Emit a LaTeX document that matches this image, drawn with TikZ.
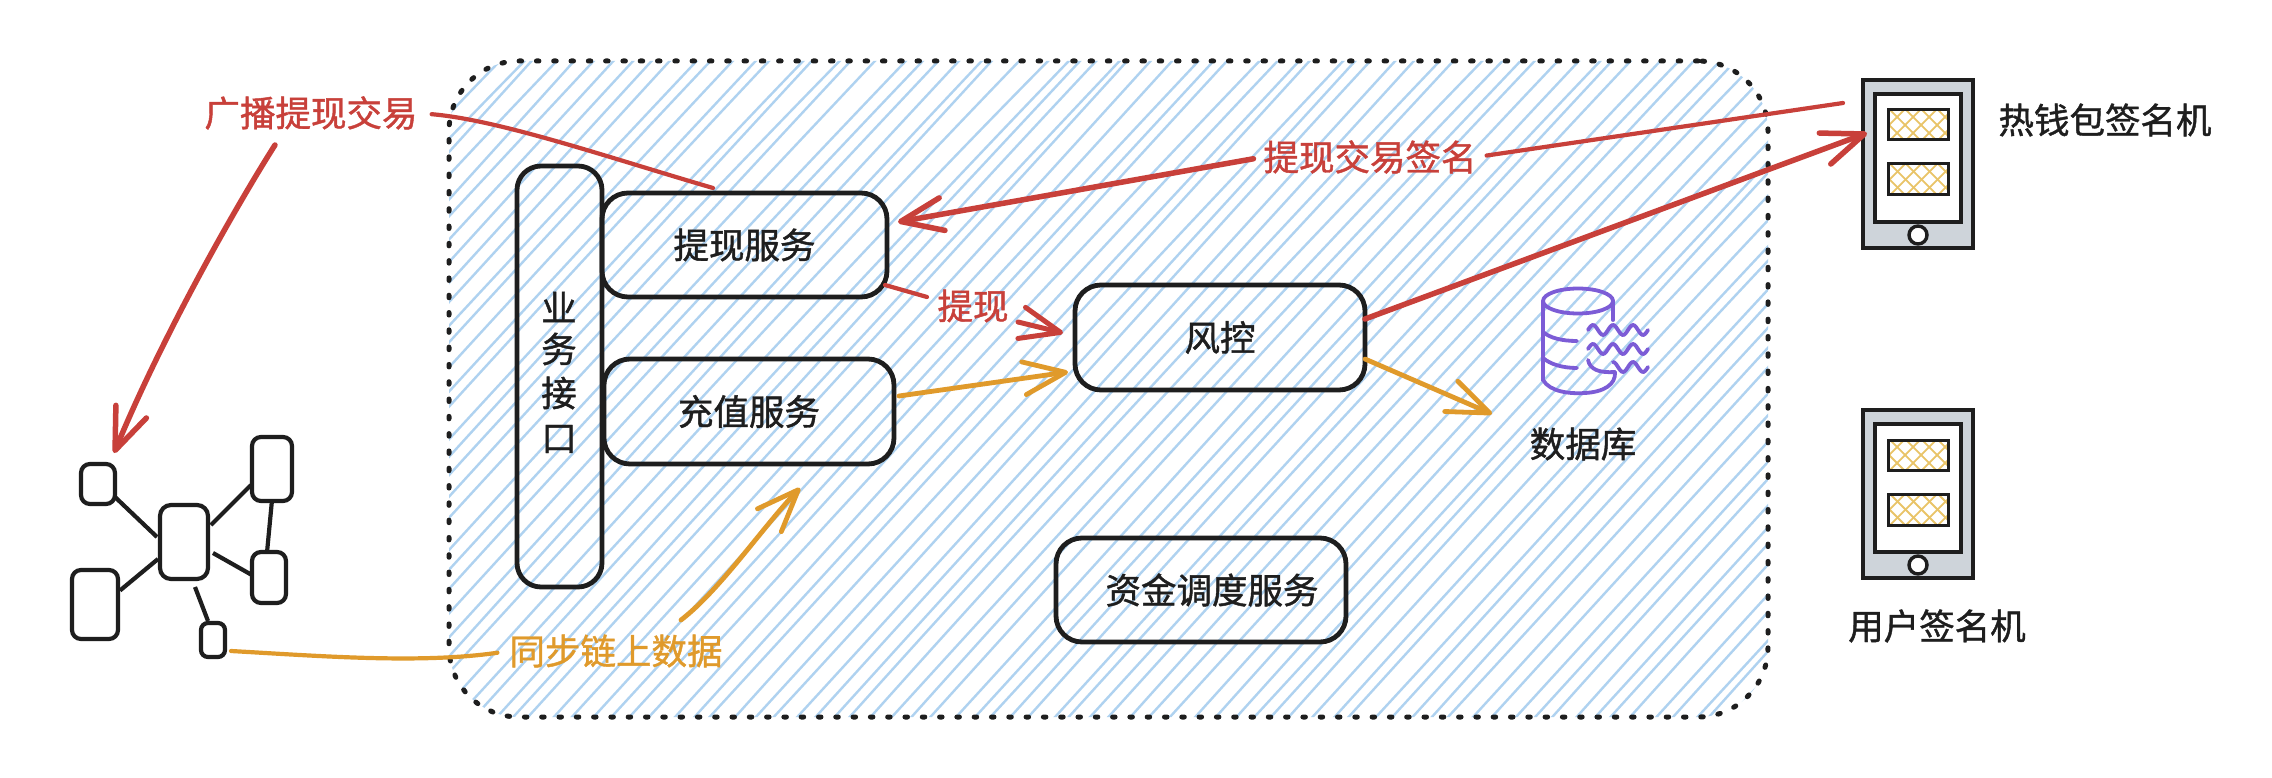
\documentclass[tikz,border=0pt]{standalone}
\usepackage{fontspec}
\setmainfont[FakeBold=1.2]{Noto Sans CJK SC}
\usetikzlibrary{arrows.meta}
\definecolor{ink}{HTML}{1E1E1E}
\definecolor{redc}{HTML}{C8403A}
\definecolor{orangec}{HTML}{E09A2B}
\definecolor{hatchc}{HTML}{AFD2F0}
\definecolor{purplec}{HTML}{7C5CD6}
\definecolor{grayc}{HTML}{CED4DA}
\definecolor{yellowc}{HTML}{E9C468}
\tikzset{
  x=1pt,y=-1pt,
  txt/.style={font=\fontsize{35.5}{35.5}\selectfont,text=ink,inner sep=0pt},
  lab/.style={font=\fontsize{35.5}{35.5}\selectfont,inner sep=0pt},
  svcbox/.style={draw=ink,line width=4.8pt,rounded corners=26pt,inner sep=0pt,align=center,font=\fontsize{35.5}{35.5}\selectfont,text=ink},
  netbox/.style={draw=ink,line width=4.2pt,rounded corners=9pt,inner sep=0pt},
  netline/.style={draw=ink,line width=4.2pt},
  redline/.style={draw=redc,line width=4.2pt,line cap=round},
  redarrow/.style={draw=redc,line width=5pt,line cap=round,-{Straight Barb[length=40pt,width=32pt,line width=5pt,round]}},
  redthick/.style={draw=redc,line width=5.5pt,line cap=round,-{Straight Barb[length=42pt,width=33pt,line width=5.5pt,round]}},
  orangeline/.style={draw=orangec,line width=4.2pt,line cap=round},
  orangearrow/.style={draw=orangec,line width=4.8pt,line cap=round,-{Straight Barb[length=42pt,width=33pt,line width=4.8pt,round]}},
  dbline/.style={draw=purplec,line width=3.8pt,line cap=round},
}
\newcommand{\devphone}[2]{%
  \begin{scope}[shift={(0,#2)}]
    \node[draw=ink,line width=3.6pt,fill=grayc,minimum width=110pt,minimum height=168pt,inner sep=0pt] (#1) at (1918,164) {};
    \node[draw=ink,line width=3.6pt,fill=white,minimum width=86pt,minimum height=128pt,inner sep=0pt] (#1s) at (1918,158) {};
    \foreach \ya/\yb/\nm in {110/140/a,164/195/b}{
      \begin{scope}
        \clip (1888,\ya) rectangle (1948,\yb);
        \foreach \k in {-3,...,7}{
          \draw[yellowc,line width=1.8pt] (1888+\k*16-30,\yb) -- ++(42,-42);
          \draw[yellowc,line width=1.8pt] (1888+\k*16-30,\ya) -- ++(42,42);
        }
      \end{scope}
      \node[draw=ink,line width=3pt,minimum width=60pt,minimum height=\yb pt-\ya pt,inner sep=0pt] (#1\nm) at (1918,{(\ya+\yb)/2}) {};
    }
    \node[circle,draw=ink,line width=3.4pt,fill=white,minimum size=18pt,inner sep=0pt] (#1k) at (1918,235) {};
  \end{scope}}
\begin{document}
\begin{tikzpicture}
\useasboundingbox[fill=white] (0,0) rectangle (2272,778);
% hatched zone
\begin{scope}
  \clip[rounded corners=70pt] (449,61) rectangle (1768,717);
  \pgfmathsetseed{7}
  \foreach \i in {0,...,100}{
    \pgfmathsetmacro{\xa}{-190+\i*20+rand*5}
    \pgfmathsetmacro{\xb}{\xa+610+rand*8}
    \draw[hatchc,line width=2.4pt] (\xa,720) .. controls ({\xa+200},{500+rand*4}) and ({\xa+400},{280+rand*4}) .. (\xb,58);
  }
\end{scope}
\node[draw=ink,line width=5pt,line cap=round,dash pattern=on 2.5pt off 14.8pt,rounded corners=70pt,minimum width=1319pt,minimum height=656pt,inner sep=0pt] (zone) at (1108.5,389) {};
% services
\node[svcbox,minimum width=85pt,minimum height=421pt,rounded corners=24pt] (api) at (559.5,376.5) {};
\node[txt] (api1) at (559,307) {业};
\node[txt] (api2) at (559,349) {务};
\node[txt] (api3) at (559,393) {接};
\node[txt] (api4) at (559,439) {口};
\node[svcbox,minimum width=285pt,minimum height=104pt] (wd) at (744.5,245) {提现服务};
\node[svcbox,minimum width=290pt,minimum height=105pt] (dep) at (749,411.5) {充值服务};
\node[svcbox,minimum width=290pt,minimum height=105pt] (risk) at (1220,337.5) {风控};
\node[svcbox,minimum width=290pt,minimum height=104pt] (fund) at (1201,590) {\hspace{22pt}资金调度服务};
% database icon
\draw[dbline] (1578,301) ellipse (35 and 12.5);
\draw[dbline] (1543,301) -- (1543,380) .. controls (1550,392) and (1570,394) .. (1585,393) .. controls (1603,392) and (1616,385) .. (1615,372);
\draw[dbline] (1613,301) -- (1613,320);
\draw[dbline] (1543,332) .. controls (1550,338) and (1562,341) .. (1577,341);
\draw[dbline] (1543,358) .. controls (1550,364) and (1562,368) .. (1577,368);
\draw[dbline] (1588,360) .. controls (1590,370) and (1600,373) .. (1615,372);
\draw[dbline] plot[smooth,domain=0:60,samples=41] ({1588+\x},{330-5*sin(18*\x)});
\draw[dbline] plot[smooth,domain=0:60,samples=41] ({1588+\x},{349-5*sin(18*\x)});
\draw[dbline] plot[smooth,domain=25:60,samples=25] ({1588+\x},{367-5*sin(18*\x)});
\node[txt] (dbt) at (1583,444) {数据库};
% phones
\devphone{hot}{0}
\devphone{usr}{330}
\node[txt] (hott) at (2105,120) {热钱包签名机};
\node[txt] (usrt) at (1937,626) {用户签名机};
% network
\node[netbox,minimum width=34pt,minimum height=40pt] (n1) at (98,484) {};
\node[netbox,minimum width=48pt,minimum height=74pt,rounded corners=11pt] (nc) at (184,542) {};
\node[netbox,minimum width=40pt,minimum height=64pt] (n3) at (272,469) {};
\node[netbox,minimum width=34pt,minimum height=51pt] (n4) at (269,577.5) {};
\node[netbox,minimum width=46pt,minimum height=69pt] (n5) at (95,604.5) {};
\node[netbox,minimum width=24pt,minimum height=34pt,rounded corners=7pt] (n6) at (213,640) {};
\draw[netline] ([shift={(17,13)}]n1.center) -- ([shift={(-27,-5)}]nc.center);
\draw[netline] ([shift={(25,-14)}]n5.center) -- ([shift={(-26,17)}]nc.center);
\draw[netline] ([shift={(-21,16)}]n3.center) -- ([shift={(27,-17)}]nc.center);
\draw[netline] ([shift={(-18,-3)}]n4.center) -- ([shift={(29,11)}]nc.center);
\draw[netline] ([shift={(11,45)}]nc.center) -- ([shift={(-5,-19)}]n6.center);
\draw[netline] ([shift={(0,31)}]n3.center) -- ([shift={(-2,-25)}]n4.center);
% labels
\node[lab,text=redc] (lbc) at (311,113) {广播提现交易};
\node[lab,text=redc] (lsig) at (1370,157) {提现交易签名};
\node[lab,text=redc] (lwd) at (973,306) {提现};
\node[lab,text=orangec] (lsync) at (616,651) {同步链上数据};
% named free ends
\coordinate (wdtop) at (713,188);
\coordinate (wdright) at (898,222);
\coordinate (wdbr) at (885,285);
\coordinate (wdout) at (927,297);
\coordinate (riskin0) at (1018,322);
\coordinate (riskl) at (1063,333);
\coordinate (riskl2) at (1068,372);
\coordinate (riskr) at (1365,319);
\coordinate (riskr2) at (1365,359);
\coordinate (depr) at (899,396);
\coordinate (hotin) at (1867,133);
\coordinate (hotsig) at (1843,103);
\coordinate (netin) at (114,453);
\coordinate (netout) at (275,145);
\coordinate (dbin) at (1492,414);
\coordinate (depin) at (800,488);
\coordinate (syncout) at (681,620);
\coordinate (n6out) at (231,651);
% red connectors
\draw[redline,shorten <=14pt] (lbc.east) .. controls (500,120) and (610,158) .. (wdtop);
\draw[redthick] (netout) .. controls (240,200) and (165,330) .. (netin);
\draw[redthick,shorten <=10pt] (lsig.west) -- (wdright);
\draw[redline,shorten <=10pt] (lsig.east) -- (hotsig);
\draw[redline] (wdbr) -- (wdout);
\draw[redarrow] (riskin0) -- (riskl);
\draw[redthick] (riskr) -- (hotin);
% orange connectors
\draw[orangearrow] (depr) -- (riskl2);
\draw[orangearrow] (riskr2) -- (dbin);
\draw[orangeline,shorten >=12pt] (n6out) .. controls (320,656) and (420,664) .. (lsync.west);
\draw[orangearrow] (syncout) .. controls (720,590) and (762,528) .. (depin);
\end{tikzpicture}
\end{document}
